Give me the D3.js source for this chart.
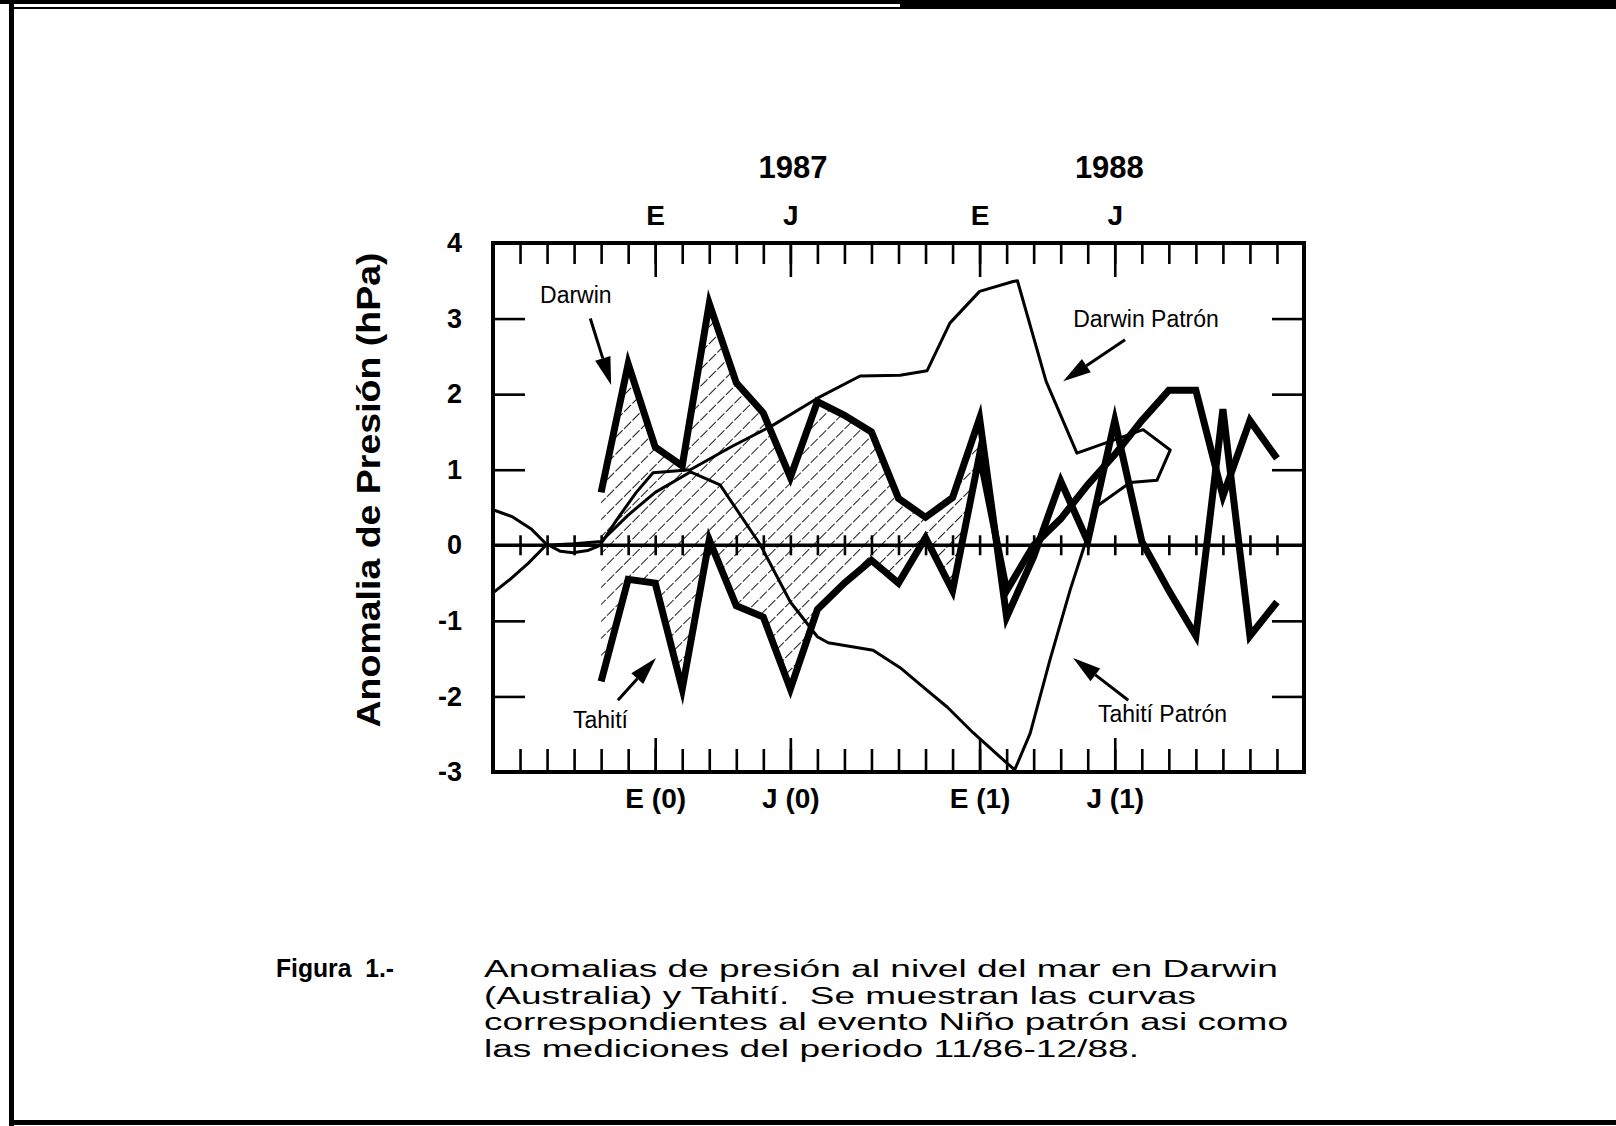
<!DOCTYPE html>
<html>
<head>
<meta charset="utf-8">
<script src="https://cdn.jsdelivr.net/npm/d3@7"></script>
<style>
  html, body { margin: 0; padding: 0; background: #fff; }
  svg { display: block; }
  text { font-family: "Liberation Sans", Arial, Helvetica, sans-serif; fill: #000; }
</style>
</head>
<body>
<div id="chart"></div>
<script>
// months counted from Jul 1986 (0) to Jan 1989 (30)
const obsMonths = [4, 5, 6, 7, 8, 9, 10, 11, 12, 13, 14, 15, 16, 17, 18, 19, 20, 21, 22, 23, 24, 25, 26, 27, 28, 29];
const darwinObs = [0.7, 2.4, 1.3, 1.05, 3.2, 2.15, 1.75, 0.9, 1.9, 1.72, 1.5, 0.62, 0.37, 0.63, 1.68, -0.95, -0.15, 0.85, 0.05, 1.65, 0.05, -0.6, -1.2, 1.8, -1.2, -0.75];
const tahitiObs = [-1.8, -0.45, -0.5, -1.9, 0.07, -0.8, -0.95, -1.9, -0.85, -0.5, -0.2, -0.5, 0.1, -0.6, 1.2, -0.6, 0.0, 0.35, 0.8, 1.2, 1.65, 2.05, 2.05, 0.65, 1.65, 1.15];

const darwinPatronMonths = [0, 0.7, 1.4, 1.96, 2.5, 2.96, 3.5, 3.96, 4.6, 5.3, 5.92, 7.3, 8.8, 10.36, 12.02, 13.58, 15.06, 16.06, 16.9, 18.0, 19.24, 19.4, 20.46, 21.6, 24.05, 25.05, 24.56, 23.57];
const darwinPatronValues = [0.47, 0.38, 0.22, 0.02, -0.08, -0.1, -0.07, 0.0, 0.35, 0.7, 0.96, 1.0, 1.3, 1.59, 1.95, 2.24, 2.25, 2.31, 2.94, 3.36, 3.49, 3.5, 2.17, 1.22, 1.53, 1.26, 0.86, 0.83];
const tahitiPatronMonths = [0, 0.6, 1.3, 1.96, 3, 4, 5, 6, 7.3, 8.4, 9.9, 11, 12.0, 12.4, 14.06, 15.06, 16.06, 16.8, 17.76, 19.0, 19.3, 19.87, 20.6, 21.35, 21.83, 22.35, 23.57];
const tahitiPatronValues = [-0.63, -0.46, -0.24, 0.0, 0.02, 0.05, 0.4, 0.7, 0.97, 0.8, 0.0, -0.75, -1.21, -1.29, -1.39, -1.62, -1.92, -2.14, -2.48, -2.88, -2.97, -2.49, -1.52, -0.59, -0.06, 0.52, 0.83];

const hatchMonths = [4, 19];   // hatched between Darwin and Tahití

const yTicks = [4, 3, 2, 1, 0, -1, -2, -3];
const yTickLabels = ['4', '3', '2', '1', '0', '-1', '-2', '-3'];
const yInnerTicks = [3, 2, 1, -1, -2];
const monthTicks = [1, 2, 3, 4, 5, 6, 7, 8, 9, 10, 11, 12, 13, 14, 15, 16, 17, 18, 19, 20, 21, 22, 23, 24, 25, 26, 27, 28, 29];
const seasonTicks = [6, 11, 18, 23];
const topLabels = ['E', 'J', 'E', 'J'];
const bottomLabels = ['E (0)', 'J (0)', 'E (1)', 'J (1)'];
const yearLabels = ['1987', '1988'];
const yearMonths = [11.1, 22.8];

const captionHead = 'Figura  1.-';
const captionLines = [
	'Anomalias de presión al nivel del mar en Darwin',
	'(Australia) y Tahití.  Se muestran las curvas',
	'correspondientes al evento Niño patrón asi como',
	'las mediciones del periodo 11/86-12/88.'
];
const captionWidths = [794, 712, 804, 655];

// annotations: label, label position, arrow tail, arrow tip (month, value)
const notes = [
	{ text: 'Darwin', at: [1.74, 3.2], tail: [3.6, 3.0], tip: [4.37, 2.12] },
	{ text: 'Tahití', at: [2.96, -2.42], tail: [4.62, -2.05], tip: [6.03, -1.49] },
	{ text: 'Darwin Patrón', at: [21.46, 2.89], tail: [23.38, 2.72], tip: [21.09, 2.17] },
	{ text: 'Tahití Patrón', at: [22.38, -2.34], tail: [23.5, -2.05], tip: [21.46, -1.49] }
];

const W = 1616, H = 1126;
const x = d3.scaleLinear().domain([0, 30]).range([493, 1304]);
const y = d3.scaleLinear().domain([-3, 4]).range([772, 243]);

const svg = d3.select('#chart').append('svg')
	.attr('width', W)
	.attr('height', H);

// page frame of the scanned figure
svg.append('rect').attr('x', 0).attr('y', 0).attr('width', W).attr('height', 4).attr('fill', '#000');
svg.append('rect').attr('x', 900).attr('y', 0).attr('width', W - 900).attr('height', 7).attr('fill', '#000');
svg.append('rect').attr('x', 14).attr('y', 7).attr('width', W - 14).attr('height', 2).attr('fill', '#000');
svg.append('rect').attr('x', 9).attr('y', 0).attr('width', 5).attr('height', H).attr('fill', '#000');
svg.append('rect').attr('x', 9).attr('y', 1120).attr('width', W - 9).attr('height', 5).attr('fill', '#000');

const defs = svg.append('defs');
const pat = defs.append('pattern')
	.attr('id', 'hatch')
	.attr('patternUnits', 'userSpaceOnUse')
	.attr('width', 12)
	.attr('height', 12)
	.attr('patternTransform', 'rotate(45)');
pat.append('line')
	.attr('x1', 0).attr('y1', 0).attr('x2', 0).attr('y2', 12)
	.attr('stroke', '#000')
	.attr('stroke-width', 1.8)
	.attr('stroke-dasharray', '6,2');

// hatched zone between observed curves
const hatchIdx = obsMonths.map((m, i) => i).filter(i => obsMonths[i] >= hatchMonths[0] && obsMonths[i] <= hatchMonths[1]);
const area = d3.area()
	.x(i => x(obsMonths[i]))
	.y0(i => y(tahitiObs[i]))
	.y1(i => y(darwinObs[i]));
svg.append('path')
	.attr('d', area(hatchIdx))
	.attr('fill', 'url(#hatch)');

// zero line with month marks
svg.append('line')
	.attr('x1', x(0)).attr('x2', x(30))
	.attr('y1', y(0)).attr('y2', y(0))
	.attr('stroke', '#000')
	.attr('stroke-width', 3.5);
const zeroTicks = svg.append('g')
	.attr('transform', `translate(0,${y(0) - 10})`)
	.call(d3.axisBottom(x).tickValues(monthTicks).tickSize(20).tickFormat(''));

// axes
const topMinor = svg.append('g')
	.attr('transform', `translate(0,${y(4)})`)
	.call(d3.axisTop(x).tickValues(monthTicks).tickSize(-21).tickFormat(''));
const topMajor = svg.append('g')
	.attr('transform', `translate(0,${y(4)})`)
	.call(d3.axisTop(x).tickValues(seasonTicks).tickSize(-34).tickPadding(18)
		.tickFormat((d, i) => topLabels[i]));
const botMinor = svg.append('g')
	.attr('transform', `translate(0,${y(-3)})`)
	.call(d3.axisBottom(x).tickValues(monthTicks).tickSize(-23).tickFormat(''));
const botMajor = svg.append('g')
	.attr('transform', `translate(0,${y(-3)})`)
	.call(d3.axisBottom(x).tickValues(seasonTicks).tickSize(-34).tickPadding(16)
		.tickFormat((d, i) => bottomLabels[i]));
const leftTicks = svg.append('g')
	.attr('transform', `translate(${x(0)},0)`)
	.call(d3.axisLeft(y).tickValues(yInnerTicks).tickSize(-32).tickFormat(''));
const rightTicks = svg.append('g')
	.attr('transform', `translate(${x(30)},0)`)
	.call(d3.axisRight(y).tickValues(yInnerTicks).tickSize(-32).tickFormat(''));
const leftLabels = svg.append('g')
	.attr('transform', `translate(${x(0)},0)`)
	.call(d3.axisLeft(y).tickValues(yTicks).tickSize(0).tickPadding(31)
		.tickFormat((d, i) => yTickLabels[i]));

[zeroTicks, topMinor, topMajor, botMinor, botMajor, leftTicks, rightTicks, leftLabels].forEach(g => {
	g.select('.domain').remove();
	g.selectAll('.tick line').attr('stroke', '#000').attr('stroke-width', 2.6);
	g.selectAll('.tick text')
		.attr('fill', '#000')
		.style('font-family', '"Liberation Sans", Arial, sans-serif')
		.style('font-weight', 'bold')
		.style('font-size', '28px');
});
leftLabels.selectAll('.tick text').style('font-size', '27px');

svg.append('rect')
	.attr('x', x(0)).attr('y', y(4))
	.attr('width', x(30) - x(0)).attr('height', y(-3) - y(4))
	.attr('fill', 'none')
	.attr('stroke', '#000')
	.attr('stroke-width', 4);

// years
svg.selectAll('.year')
	.data(yearLabels)
	.enter()
	.append('text')
	.attr('class', 'year')
	.attr('x', (d, i) => x(yearMonths[i]))
	.attr('y', 178)
	.attr('text-anchor', 'middle')
	.style('font-size', '31px')
	.style('font-weight', 'bold')
	.text(d => d);

// y title
svg.append('text')
	.attr('transform', 'translate(380,490) rotate(-90)')
	.attr('text-anchor', 'middle')
	.attr('textLength', 475)
	.attr('lengthAdjust', 'spacingAndGlyphs')
	.style('font-size', '33px')
	.style('font-weight', 'bold')
	.text('Anomalia de Presión (hPa)');

// pattern curves (thin)
const pairLine = d3.line().x(d => x(d[0])).y(d => y(d[1]));
svg.append('path')
	.attr('d', pairLine(darwinPatronMonths.map((m, i) => [m, darwinPatronValues[i]])))
	.attr('fill', 'none').attr('stroke', '#000').attr('stroke-width', 3)
	.attr('stroke-linejoin', 'round');
svg.append('path')
	.attr('d', pairLine(tahitiPatronMonths.map((m, i) => [m, tahitiPatronValues[i]])))
	.attr('fill', 'none').attr('stroke', '#000').attr('stroke-width', 3)
	.attr('stroke-linejoin', 'round');

// observed curves (thick)
[darwinObs, tahitiObs].forEach(vals => {
	svg.append('path')
		.attr('d', pairLine(obsMonths.map((m, i) => [m, vals[i]])))
		.attr('fill', 'none').attr('stroke', '#000').attr('stroke-width', 7)
		.attr('stroke-linejoin', 'miter')
		.attr('stroke-miterlimit', 6);
});

// annotations with arrows
notes.forEach(n => {
	svg.append('text')
		.attr('x', x(n.at[0]))
		.attr('y', y(n.at[1]))
		.style('font-size', '23px')
		.text(n.text);
	const x0 = x(n.tail[0]), y0 = y(n.tail[1]);
	const x1 = x(n.tip[0]), y1 = y(n.tip[1]);
	const ang = Math.atan2(y1 - y0, x1 - x0);
	const len = 28, half = 8;
	const bx = x1 - len * Math.cos(ang), by = y1 - len * Math.sin(ang);
	svg.append('line')
		.attr('x1', x0).attr('y1', y0).attr('x2', bx).attr('y2', by)
		.attr('stroke', '#000').attr('stroke-width', 3);
	svg.append('path')
		.attr('d', `M${x1},${y1}L${bx - half * Math.sin(ang)},${by + half * Math.cos(ang)}L${bx + half * Math.sin(ang)},${by - half * Math.cos(ang)}Z`)
		.attr('fill', '#000');
});

// caption
svg.append('text')
	.attr('x', 276).attr('y', 977)
	.attr('textLength', 118)
	.attr('lengthAdjust', 'spacingAndGlyphs')
	.style('font-size', '25px')
	.style('font-weight', 'bold')
	.style('white-space', 'pre')
	.text(captionHead);
svg.selectAll('.cap')
	.data(captionLines)
	.enter()
	.append('text')
	.attr('class', 'cap')
	.attr('x', 484)
	.attr('y', (d, i) => 977 + i * 26.5)
	.attr('textLength', (d, i) => captionWidths[i])
	.attr('lengthAdjust', 'spacingAndGlyphs')
	.style('font-size', '23px')
	.style('white-space', 'pre')
	.text(d => d);
</script>
</body>
</html>
